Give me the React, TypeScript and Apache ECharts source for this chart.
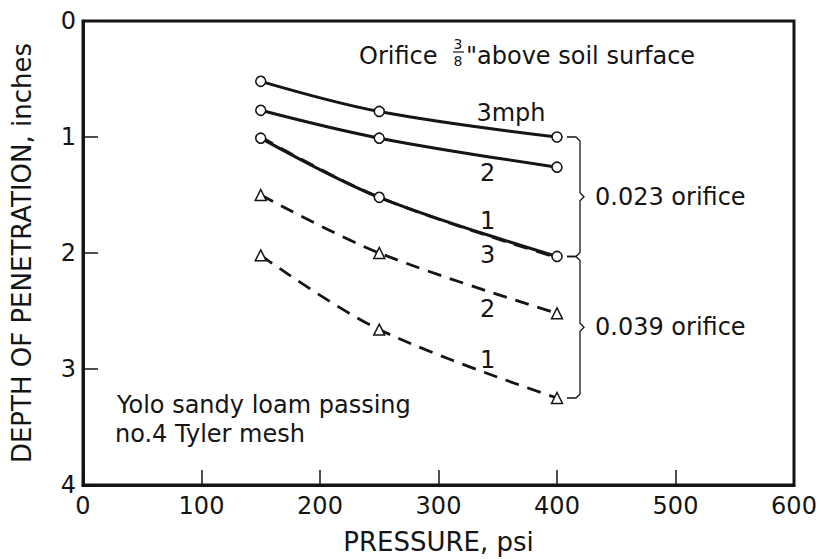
import React, { useEffect, useRef } from "react";
import * as echarts from "echarts";

// Pressure (psi) at which the measurements were taken
const pressure = [150, 250, 400];

// Depth of penetration (inches), 0.023 orifice
const depth023_3mph = [0.52, 0.78, 1.0];
const depth023_2mph = [0.77, 1.01, 1.26];
const depth023_1mph = [1.01, 1.52, 2.03];

// Depth of penetration (inches), 0.039 orifice
const depth039_3mph = [1.0, 1.52, 2.04];
const depth039_2mph = [1.5, 2.0, 2.52];
const depth039_1mph = [2.02, 2.66, 3.25];

const xMin = 0;
const xMax = 600;
const xStep = 100;
const yMin = 0;
const yMax = 4;
const yStep = 1;

const FONT = '"DejaVu Sans", "Liberation Sans", sans-serif';
const INK = "#151515";

const toPts = (vals: number[]) => pressure.map((p, i) => [p, vals[i]]);

export default function App() {
  const ref = useRef<HTMLDivElement>(null);

  useEffect(() => {
    if (!ref.current) return;
    const chart = echarts.init(ref.current, null, { renderer: "svg" });

    const solid = (name: string, vals: number[]) => ({
      name,
      type: "line",
      data: toPts(vals),
      smooth: 0.35,
      symbol: "circle",
      symbolSize: 10,
      z: 5,
      itemStyle: { color: "#fff", borderColor: INK, borderWidth: 1.6 },
      lineStyle: { color: INK, width: 3 },
    });
    const dashed = (name: string, vals: number[], showSym = true) => ({
      name,
      type: "line",
      data: toPts(vals),
      smooth: 0.35,
      symbol: showSym ? "triangle" : "none",
      symbolSize: 11,
      z: 3,
      itemStyle: { color: "#fff", borderColor: INK, borderWidth: 1.5 },
      lineStyle: { color: INK, width: 2.8, type: [14, 9] },
    });

    chart.setOption({
      animation: false,
      backgroundColor: "#fff",
      grid: {
        left: 83,
        right: 27,
        top: 21,
        bottom: 74,
        containLabel: false,
        outerBoundsMode: "none",
        show: true,
        borderColor: INK,
        borderWidth: 3,
        backgroundColor: "transparent",
      },
      xAxis: {
        type: "value",
        position: "bottom",
        min: xMin,
        max: xMax,
        interval: xStep,
        name: "PRESSURE, psi",
        nameLocation: "middle",
        nameGap: 44,
        nameTextStyle: { fontFamily: FONT, fontSize: 26, color: INK },
        axisLine: { show: true, onZero: false, lineStyle: { color: INK, width: 3 } },
        axisTick: { show: true, inside: true, length: 15, lineStyle: { color: INK, width: 1.5 } },
        axisLabel: { fontFamily: FONT, fontSize: 24, color: INK, margin: 9 },
        splitLine: { show: false },
      },
      yAxis: {
        type: "value",
        position: "left",
        inverse: true,
        min: yMin,
        max: yMax,
        interval: yStep,
        name: "DEPTH OF PENETRATION, inches",
        nameLocation: "middle",
        nameGap: 48,
        nameTextStyle: { fontFamily: FONT, fontSize: 26, color: INK },
        axisLine: { show: true, onZero: false, lineStyle: { color: INK, width: 3 } },
        axisTick: { show: true, inside: true, length: 15, lineStyle: { color: INK, width: 1.5 } },
        axisLabel: { fontFamily: FONT, fontSize: 24, color: INK, margin: 7 },
        splitLine: { show: false },
      },
      series: [
        dashed("0.039 orifice, 3 mph", depth039_3mph, false),
        dashed("0.039 orifice, 2 mph", depth039_2mph),
        dashed("0.039 orifice, 1 mph", depth039_1mph),
        solid("0.023 orifice, 3 mph", depth023_3mph),
        solid("0.023 orifice, 2 mph", depth023_2mph),
        solid("0.023 orifice, 1 mph", depth023_1mph),
      ],
    });

    const px = (x: number, y: number) =>
      chart.convertToPixel({ gridIndex: 0 }, [x, y]) as number[];

    const textEl = (text: string, x: number, y: number, size = 24, align = "left") => ({
      type: "text",
      x,
      y,
      z: 10,
      style: {
        text,
        fontFamily: FONT,
        fontSize: size,
        fill: INK,
        textAlign: align,
        textVerticalAlign: "middle",
      },
    });

    const last = pressure.length - 1;
    const top023 = px(pressure[last], depth023_3mph[last]);
    const bot023 = px(pressure[last], depth023_1mph[last]);
    const bot039 = px(pressure[last], depth039_1mph[last]);

    const bracket = (x0: number, yTop: number, yBot: number) => {
      const xv = x0 + 23;
      const yMid = (yTop + yBot) / 2;
      return {
        type: "polyline",
        z: 10,
        shape: {
          points: [
            [x0 + 10, yTop],
            [xv - 4, yTop],
            [xv, yTop + 4],
            [xv, yMid - 4],
            [xv + 4, yMid],
            [xv, yMid + 4],
            [xv, yBot - 4],
            [xv - 4, yBot],
            [x0 + 10, yBot],
          ],
        },
        style: { stroke: INK, lineWidth: 1.3, fill: "none" },
      };
    };

    const lbl = (text: string, x: number, y: number) => {
      const p = px(x, y);
      return textEl(text, p[0], p[1]);
    };

    const mid023 = (top023[1] + bot023[1]) / 2;
    const mid039 = (bot023[1] + bot039[1]) / 2;

    chart.setOption({
      graphic: [
        // header note with stacked fraction
        textEl("Orifice", 359, 56),
        textEl("3", 458, 44, 14, "center"),
        {
          type: "line",
          z: 10,
          shape: { x1: 453, y1: 52, x2: 464, y2: 52 },
          style: { stroke: INK, lineWidth: 1.2 },
        },
        textEl("8", 458, 61, 14, "center"),
        textEl('"above soil surface', 466, 56),
        // speed labels
        lbl("3mph", 332, 0.79),
        lbl("2", 335, 1.31),
        lbl("1", 335, 1.72),
        lbl("3", 335, 2.02),
        lbl("2", 335, 2.48),
        lbl("1", 335, 2.92),
        // brackets
        bracket(top023[0], top023[1], bot023[1]),
        bracket(top023[0], bot023[1], bot039[1]),
        textEl("0.023 orifice", top023[0] + 38, mid023),
        textEl("0.039 orifice", top023[0] + 38, mid039),
        // soil note
        textEl("Yolo sandy loam passing", 117, 405),
        textEl("no.4 Tyler mesh", 115, 434),
      ],
    });

    return () => chart.dispose();
  }, []);

  return (
    <div
      ref={ref}
      style={{ position: "fixed", left: 0, top: 0, width: 821, height: 559, background: "#fff" }}
    />
  );
}
